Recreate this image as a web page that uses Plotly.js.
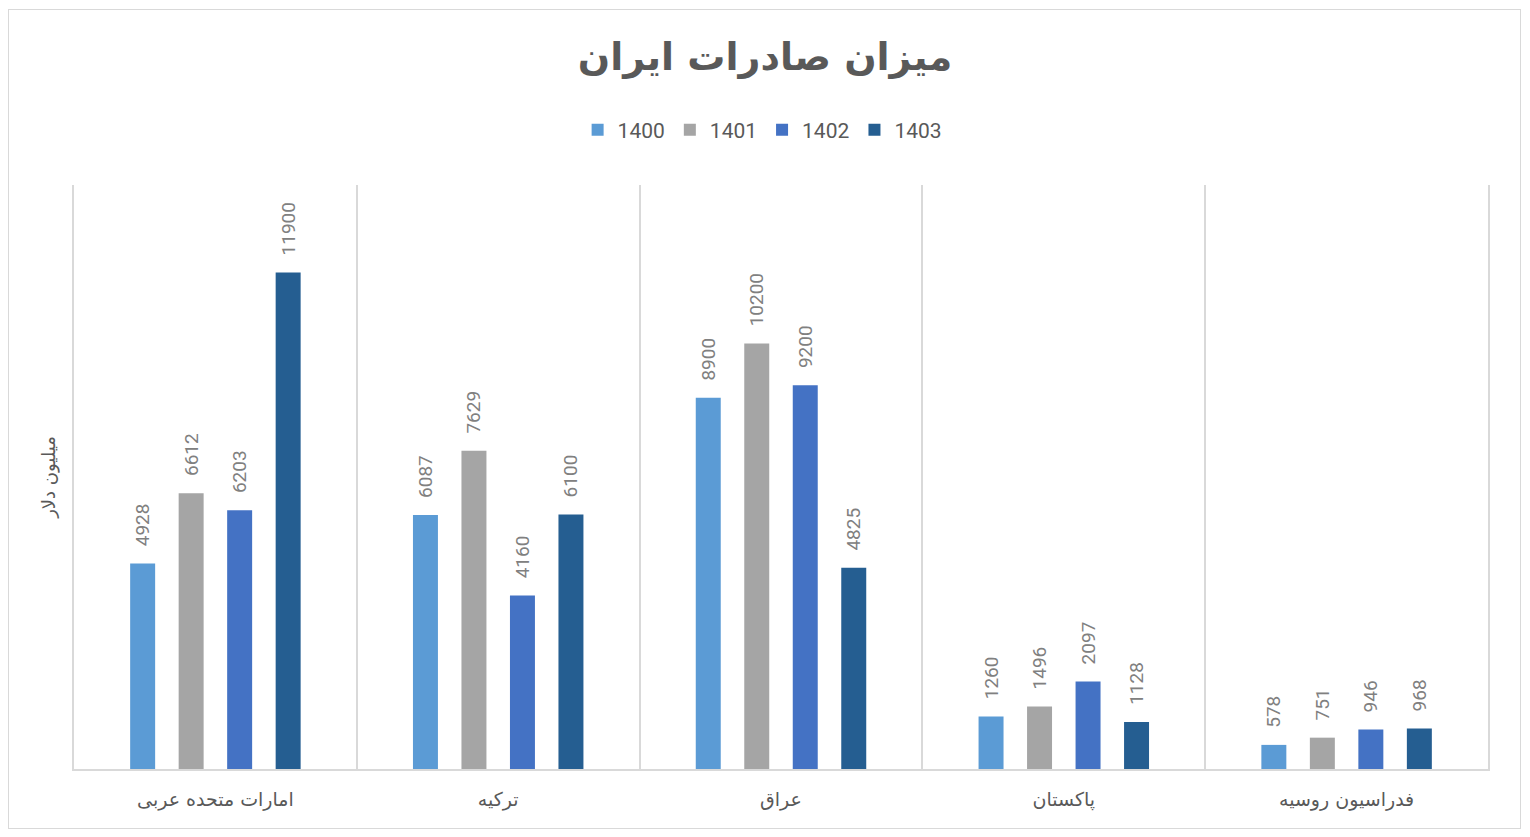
<!DOCTYPE html>
<html>
<head>
<meta charset="utf-8">
<script src="https://cdn.plot.ly/plotly-3.0.1.min.js"></script>
<style>
html,body{margin:0;padding:0;background:#fff;}
#wrap{position:relative;width:1530px;height:837px;}
#chart{position:absolute;left:0;top:0;width:1530px;height:837px;}
#frame{position:absolute;left:8px;top:9px;width:1511px;height:818px;border:1px solid #d9d9d9;pointer-events:none;}
</style>
</head>
<body>
<div id="wrap"><div id="chart"></div><div id="frame"></div></div>
<script>
const categories = ["امارات متحده عربی", "ترکیه", "عراق", "پاکستان", "فدراسیون روسیه"];
const seriesNames = ["1400", "1401", "1402", "1403"];
const v1400 = [4928, 6087, 8900, 1260, 578];
const v1401 = [6612, 7629, 10200, 1496, 751];
const v1402 = [6203, 4160, 9200, 2097, 946];
const v1403 = [11900, 6100, 4825, 1128, 968];
const colors = ["#5B9BD5", "#A5A5A5", "#4472C4", "#255E91"];
const allValues = [v1400, v1401, v1402, v1403];

const traces = allValues.map((vals, i) => ({
  type: 'bar',
  name: seriesNames[i],
  x: categories,
  y: vals,
  marker: {color: colors[i]},
  text: vals.map(v => String(v)),
  texttemplate: '\u00a0\u00a0\u00a0%{text}',
  textposition: 'outside',
  textangle: -90,
  constraintext: 'none',
  cliponaxis: false,
  textfont: {family: 'Roboto, Liberation Sans, sans-serif', size: 19, color: '#808080'},
  hoverinfo: 'x+y'
}));

const layout = {
  width: 1530,
  height: 837,
  margin: {l: 74, r: 42, t: 185, b: 68},
  paper_bgcolor: '#ffffff',
  plot_bgcolor: '#ffffff',
  barmode: 'group',
  bargap: 0.314,
  bargroupgap: 0.485,
  showlegend: true,
  title: {
    text: 'میزان صادرات ایران',
    font: {family: 'DejaVu Sans, sans-serif', size: 38, color: '#595959', weight: 'bold'},
    x: 0.5, xanchor: 'center',
    y: 1 - 57/837, yanchor: 'middle', yref: 'container'
  },
  legend: {
    orientation: 'h',
    x: 0.487, xanchor: 'center',
    y: 1.094, yanchor: 'middle',
    font: {family: 'Roboto, Liberation Sans, sans-serif', size: 21, color: '#595959'},
    itemwidth: 30,
    traceorder: 'normal'
  },
  xaxis: {
    type: 'category',
    tickson: 'boundaries',
    showgrid: true,
    gridcolor: '#d9d9d9',
    gridwidth: 1.5,
    showline: true,
    linecolor: '#d9d9d9',
    linewidth: 1.5,
    ticks: '',
    ticklabelstandoff: 12,
    tickfont: {family: 'DejaVu Sans, sans-serif', size: 19, color: '#595959'},
    zeroline: false
  },
  yaxis: {
    range: [0, 14000],
    showgrid: false,
    showticklabels: false,
    zeroline: false,
    showline: true,
    mirror: true,
    linecolor: '#d9d9d9',
    linewidth: 1.5,
    ticks: '',
    title: {
      text: 'میلیون دلار',
      font: {family: 'DejaVu Sans, sans-serif', size: 18, color: '#595959'},
      standoff: 12
    }
  }
};

Plotly.newPlot('chart', traces, layout, {displayModeBar: false, responsive: false});
</script>
</body>
</html>
